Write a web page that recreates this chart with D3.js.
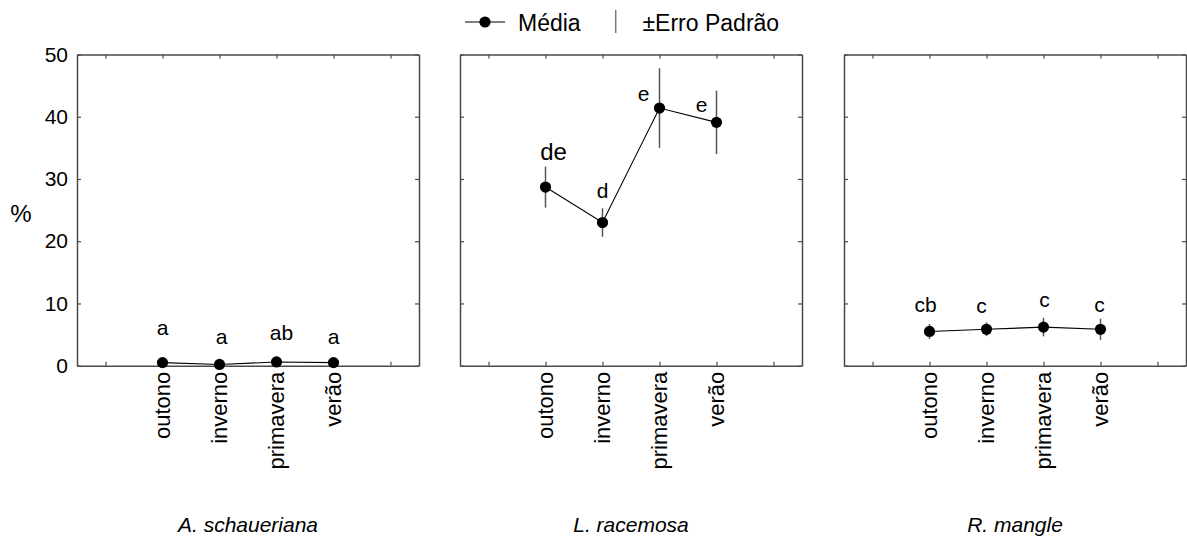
<!DOCTYPE html>
<html>
<head>
<meta charset="utf-8">
<script src="https://cdn.jsdelivr.net/npm/d3@7"></script>
<style>
  html, body { margin: 0; padding: 0; background: #fff; }
  svg { display: block; font-family: "Liberation Sans", Arial, sans-serif; }
</style>
</head>
<body>
<svg id="chart" width="1187" height="537"></svg>
<script>
// Seasons on the x axis
const seasons = ["outono", "inverno", "primavera", "verão"];
// Species, one panel each
const species = ["A. schaueriana", "L. racemosa", "R. mangle"];
// Mean percentage per season, by species
const meanSchaueriana = [0.5, 0.2, 0.6, 0.5];
const meanRacemosa = [28.7, 23.0, 41.4, 39.1];
const meanMangle = [5.5, 5.85, 6.2, 5.85];
// Standard error per season, by species
const seSchaueriana = [0.15, 0.1, 0.2, 0.15];
const seRacemosa = [3.3, 2.3, 6.4, 5.1];
const seMangle = [1.2, 1.1, 1.5, 1.7];
// Significance letters per season, by species
const lettersSchaueriana = ["a", "a", "ab", "a"];
const lettersRacemosa = ["de", "d", "e", "e"];
const lettersMangle = ["cb", "c", "c", "c"];
// Height (in %) at which each letter sits
const letterLevelSchaueriana = [4.9, 3.45, 4.1, 3.45];
const letterLevelRacemosa = [33.0, 26.9, 42.5, 40.8];
const letterLevelMangle = [8.7, 8.4, 9.4, 8.6];
// Y axis ticks
const yTicks = [0, 10, 20, 30, 40, 50];
const yLabel = "%";
const legendMean = "Média";
const legendSE = "±Erro Padrão";

const panels = [
  { name: species[0], mean: meanSchaueriana, se: seSchaueriana, letters: lettersSchaueriana, level: letterLevelSchaueriana },
  { name: species[1], mean: meanRacemosa, se: seRacemosa, letters: lettersRacemosa, level: letterLevelRacemosa },
  { name: species[2], mean: meanMangle, se: seMangle, letters: lettersMangle, level: letterLevelMangle }
];

// Layout
const panelLeft = [77, 460, 844];
const panelW = 342;
const plotTop = 54.5, plotBottom = 365.7;
const tickLen = 4;
const frameColor = "#4a4a4a";
// Horizontal nudges of letters (px), per panel
const letterDx = [[0, 2, 5, 0], [8, 0, -16, -15], [-4, -5, 1, -1]];

const svg = d3.select("#chart");
const y = d3.scaleLinear().domain([0, 50]).range([plotBottom, plotTop]);

panels.forEach((p, pi) => {
  const x0 = panelLeft[pi];
  // six slots, seasons occupy slots 2..5
  const x = d3.scaleLinear().domain([0.5, 6.5]).range([x0, x0 + panelW]);
  const pos = i => x(i + 2);
  const g = svg.append("g");

  // frame with inward ticks on every side
  const xTickVals = [1, 2, 3, 4, 5, 6];
  const axB = d3.axisBottom(x).tickValues(xTickVals).tickSize(-tickLen).tickSizeOuter(0).tickFormat("");
  const axT = d3.axisTop(x).tickValues(xTickVals).tickSize(-tickLen).tickSizeOuter(0).tickFormat("");
  const axL = d3.axisLeft(y).tickValues(yTicks).tickSize(-tickLen).tickSizeOuter(0).tickFormat(pi === 0 ? d3.format("d") : "");
  const axR = d3.axisRight(y).tickValues(yTicks).tickSize(-tickLen).tickSizeOuter(0).tickFormat("");

  const styleAxis = sel => {
    sel.select(".domain").attr("stroke", frameColor).attr("stroke-width", 1.5);
    sel.selectAll(".tick line").attr("stroke", frameColor).attr("stroke-width", 1.2);
  };
  g.append("g").attr("transform", `translate(0,${plotBottom})`).call(axB).call(styleAxis);
  g.append("g").attr("transform", `translate(0,${plotTop})`).call(axT).call(styleAxis);
  const gl = g.append("g").attr("transform", `translate(${x0},0)`).call(axL).call(styleAxis);
  g.append("g").attr("transform", `translate(${x0 + panelW},0)`).call(axR).call(styleAxis);
  gl.selectAll(".tick text")
    .attr("x", -9).attr("font-size", 21).attr("fill", "#000")
    .attr("font-family", "Liberation Sans, Arial, sans-serif");

  // category labels, rotated
  g.selectAll("text.cat").data(seasons).join("text")
    .attr("class", "cat")
    .attr("transform", (d, i) => `translate(${pos(i)},${plotBottom + 6}) rotate(-90)`)
    .attr("text-anchor", "end")
    .attr("dy", "0.35em")
    .attr("font-size", 22)
    .text(d => d);

  // error bars
  g.selectAll("line.err").data(p.mean).join("line")
    .attr("class", "err")
    .attr("x1", (d, i) => pos(i)).attr("x2", (d, i) => pos(i))
    .attr("y1", (d, i) => y(d - p.se[i])).attr("y2", (d, i) => y(d + p.se[i]))
    .attr("stroke", "#555").attr("stroke-width", 1.5);

  // mean line
  const line = d3.line().x((d, i) => pos(i)).y(d => y(d));
  g.append("path").datum(p.mean)
    .attr("d", line).attr("fill", "none")
    .attr("stroke", "#000").attr("stroke-width", 1.1);

  // mean points
  g.selectAll("circle.pt").data(p.mean).join("circle")
    .attr("class", "pt")
    .attr("cx", (d, i) => pos(i)).attr("cy", d => y(d))
    .attr("r", 5.6).attr("fill", "#000");

  // significance letters
  g.selectAll("text.let").data(p.letters).join("text")
    .attr("class", "let")
    .attr("x", (d, i) => pos(i) + letterDx[pi][i])
    .attr("y", (d, i) => y(p.level[i]))
    .attr("text-anchor", "middle")
    .attr("font-size", d => d === "de" ? 24 : 21)
    .text(d => d);

  // species name
  g.append("text")
    .attr("x", x0 + panelW / 2).attr("y", 531.5)
    .attr("text-anchor", "middle")
    .attr("font-size", 21).attr("font-style", "italic")
    .text(p.name);
});

// y axis label
svg.append("text")
  .attr("x", 21).attr("y", 222)
  .attr("text-anchor", "middle")
  .attr("font-size", 24)
  .text(yLabel);

// legend
const lg = svg.append("g");
lg.append("line").attr("x1", 465).attr("x2", 505).attr("y1", 22).attr("y2", 22)
  .attr("stroke", "#000").attr("stroke-width", 1.2);
lg.append("circle").attr("cx", 485).attr("cy", 22).attr("r", 5.6).attr("fill", "#000");
lg.append("text").attr("x", 518).attr("y", 31).attr("font-size", 23).text(legendMean);
lg.append("line").attr("x1", 615.7).attr("x2", 615.7).attr("y1", 10).attr("y2", 33)
  .attr("stroke", "#777").attr("stroke-width", 1.5);
lg.append("text").attr("x", 642.5).attr("y", 31).attr("font-size", 23).text(legendSE);
</script>
</body>
</html>
